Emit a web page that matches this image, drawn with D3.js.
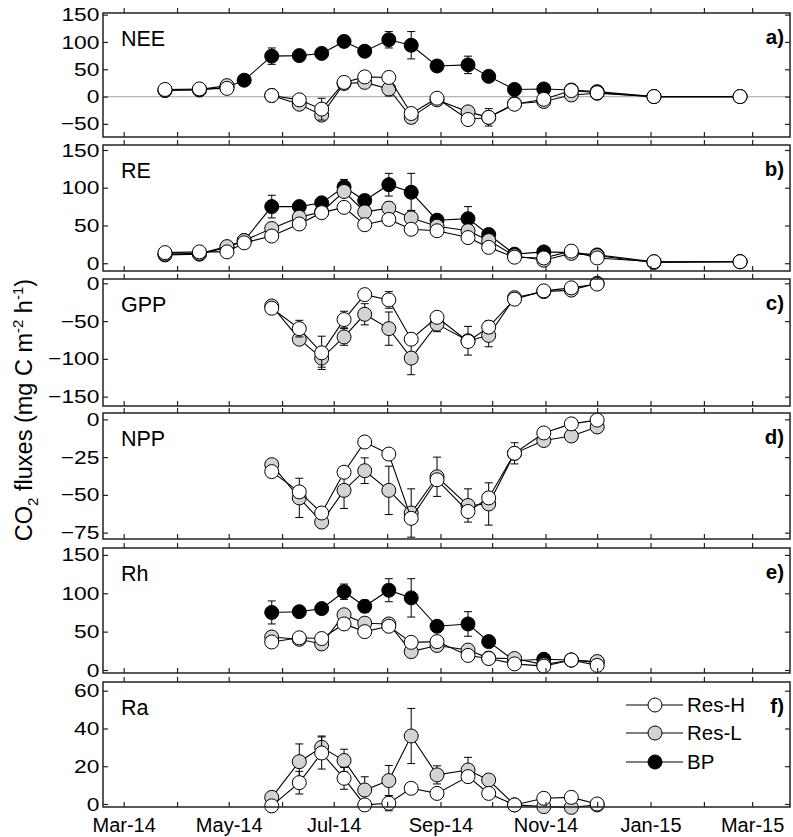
<!DOCTYPE html>
<html><head><meta charset="utf-8">
<script src="https://cdn.jsdelivr.net/npm/d3@7"></script>
<style>body{margin:0;background:#fff} svg{display:block} text{font-family:"Liberation Sans",Arial,sans-serif}</style>
</head><body><svg id="c" width="793" height="837"></svg>
<script>
// ---------- data ----------
const dates = ["2014-03-25","2014-04-14","2014-04-30","2014-05-10","2014-05-26","2014-06-11","2014-06-24","2014-07-07","2014-07-19","2014-08-02","2014-08-15","2014-08-30","2014-09-17","2014-09-29","2014-10-14","2014-10-31","2014-11-16","2014-12-01","2015-01-03","2015-02-22"];
const seriesNames = ["Res-H","Res-L","BP"];
const panelNames = ["NEE","RE","GPP","NPP","Rh","Ra"];
const panelTags = ["a)","b)","c)","d)","e)","f)"];
const yTicksA = [-50,0,50,100,150];
const yTicksB = [0,50,100,150];
const yTicksC = [-150,-100,-50,0];
const yTicksD = [-75,-50,-25,0];
const yTicksE = [0,50,100,150];
const yTicksF = [0,20,40,60];

// a) NEE
const neeBP   = [11,12,17,30,74,75,79,101,83,104,94,56,58,37,13,14,12,9,0,0];
const neeBPErr= [0,0,0,0,15,6,5,10,8,15,25,0,16,0,0,0,0,0,0,0];
const neeL    = [12,13,20,null,2,-14,-34,24,26,14,-38,-6,-28,-38,-13,-9,3,6,0,0];
const neeLErr = [0,0,0,0,0,8,5,5,4,13,11,0,9,8,0,0,0,0,0,0];
const neeH    = [13,14,15,null,2,-6,-23,26,36,35,-31,-3,-42,-38,-14,-5,11,7,0,0];
const neeHErr = [0,0,0,0,6,6,20,5,4,4,5,0,5,16,0,0,0,0,0,0];
// b) RE
const reBP    = [11,12,21,30,75,75,80,101,83,104,94,57,59,38,12,15,14,11,2,2];
const reBPErr = [0,0,0,0,15,6,5,10,8,15,25,0,16,0,0,0,0,0,0,0];
const reL     = [12,13,22,30,46,61,68,95,68,73,60,49,43,30,10,4,13,10,1,2];
const reLErr  = [0,0,0,0,0,4,0,4,5,8,10,0,0,0,0,0,0,0,0,0];
const reH     = [14,15,15,27,36,52,67,74,51,58,45,43,34,21,8,7,16,7,2,2];
const reHErr  = [0,0,0,0,0,0,0,0,0,8,0,0,0,0,0,0,0,0,0,0];
// c) GPP
const gppL    = [null,null,null,null,-30,-74,-99,-71,-41,-60,-99,-54,-76,-69,-19,-11,-9,0,null,null];
const gppLErr = [0,0,0,0,0,0,12,11,14,22,22,10,19,15,0,0,0,0,0,0];
const gppH    = [null,null,null,null,-33,-60,-92,-48,-15,-22,-74,-45,-77,-58,-21,-10,-6,-1,null,null];
const gppHErr = [0,0,0,0,0,11,22,11,0,11,0,0,0,8,0,0,0,0,0,0];
// d) NPP
const nppL    = [null,null,null,null,-30,-52,-68,-47,-34,-47,-62,-38,-57,-56,-22.5,-14,-11,-5,null,null];
const nppLErr = [0,0,0,0,0,13,0,12,8.5,16,16,13,11,14,7,0,0,0,0,0];
const nppH    = [null,null,null,null,-34.6,-48,-62,-35,-15,-23,-65.5,-40,-61,-52,-22.5,-9,-3,-0.5,null,null];
const nppHErr = [0,0,0,0,0,0,0,0,0,0,0,0,0,0,0,0,0,0,0,0];
// e) Rh
const rhBP    = [null,null,null,null,75,76,80,102,83,104,94,57,60,37,12,14,13,10,null,null];
const rhBPErr = [0,0,0,0,15,5,4,10,8,15,25,0,16,0,0,0,0,0,0,0];
const rhL     = [null,null,null,null,43,40,34,72,61,60,24,32,26,15.5,15,7,13,11,null,null];
const rhH     = [null,null,null,null,36.5,42,41,60,50,57,36,37,19,15,8,5,13,6,null,null];
// f) Ra
const raL     = [null,null,null,null,3.5,22.4,30,23,7.4,12.4,36,15.4,18,12.7,-0.5,-1.4,-1.8,-0.5,null,null];
const raLErr  = [0,0,0,0,2,9.4,6,6,7,8,14.6,4.8,6.7,0,0,0,0,0,0,0];
const raH     = [null,null,null,null,-1,11.3,27,13.6,-0.5,0.4,8.3,5.6,14.5,5.6,-0.5,3,3.5,0,null,null];
const raHErr  = [0,0,0,0,0,6,8.5,5.8,0,4,2.5,0,2,0,0,0,0,0,0,0];

// ---------- layout ----------
const fills = {"Res-H":"#ffffff","Res-L":"#d3d3d3","BP":"#000000"};
const X0 = 103, X1 = 790;
const parse = d3.timeParse("%Y-%m-%d");
const x = d3.scaleTime().domain([new Date(2014,1,17), new Date(2015,2,23)]).range([X0, X1]);
const months = d3.timeMonth.range(new Date(2014,2,1), new Date(2015,2,2));
const fmt = d3.timeFormat("%b-%y");

const panels = [
  {top:13,  bottom:137, domain:[-74,153],   ticks:yTicksA, zero:true,
   series:[["BP",neeBP,neeBPErr],["Res-L",neeL,neeLErr],["Res-H",neeH,neeHErr]]},
  {top:145, bottom:271, domain:[-10.3,156.6], ticks:yTicksB,
   series:[["BP",reBP,reBPErr],["Res-L",reL,reLErr],["Res-H",reH,reHErr]]},
  {top:279, bottom:406, domain:[-162.4,5.7], ticks:yTicksC,
   series:[["Res-L",gppL,gppLErr],["Res-H",gppH,gppHErr]]},
  {top:413, bottom:539, domain:[-79.2,4.2], ticks:yTicksD,
   series:[["Res-L",nppL,nppLErr],["Res-H",nppH,nppHErr]]},
  {top:548, bottom:673, domain:[-3.9,159], ticks:yTicksE,
   series:[["BP",rhBP,rhBPErr],["Res-L",rhL,null],["Res-H",rhH,null]]},
  {top:682, bottom:807, domain:[-1.6,64.6], ticks:yTicksF,
   series:[["Res-L",raL,raLErr],["Res-H",raH,raHErr]]}
];

const svg = d3.select("#c");
const R = 7;

panels.forEach((p, i) => {
  const y = d3.scaleLinear().domain(p.domain).range([p.bottom, p.top]);
  const g = svg.append("g");
  if (p.zero) {
    g.append("line").attr("x1", X0).attr("x2", X1).attr("y1", y(0)).attr("y2", y(0))
      .attr("stroke", "#b8b8b8").attr("stroke-width", 1.2);
  }
  p.series.forEach(([name, vals, errs]) => {
    const pts = dates.map((d, k) => ({d: parse(d), v: vals[k], e: errs ? errs[k] : 0}));
    const sg = g.append("g");
    pts.filter(q => q.v != null && q.e > 0).forEach(q => {
      const cx = x(q.d), y1 = y(q.v + q.e), y2 = y(q.v - q.e);
      sg.append("line").attr("x1", cx).attr("x2", cx).attr("y1", y1).attr("y2", y2).attr("stroke", "#000").attr("stroke-width", 1);
      [y1, y2].forEach(yy => sg.append("line").attr("x1", cx - 4).attr("x2", cx + 4).attr("y1", yy).attr("y2", yy).attr("stroke", "#000").attr("stroke-width", 1));
    });
    const line = d3.line().defined(q => q.v != null).x(q => x(q.d)).y(q => y(q.v));
    sg.append("path").attr("d", line(pts)).attr("fill", "none").attr("stroke", "#000").attr("stroke-width", 1.1);
    sg.selectAll("circle").data(pts.filter(q => q.v != null)).join("circle")
      .attr("cx", q => x(q.d)).attr("cy", q => y(q.v)).attr("r", R)
      .attr("fill", fills[name]).attr("stroke", "#000").attr("stroke-width", 1);
  });
  g.append("rect").attr("x", X0).attr("y", p.top).attr("width", X1 - X0).attr("height", p.bottom - p.top)
    .attr("fill", "none").attr("stroke", "#222").attr("stroke-width", 1.5);
  const left = g.append("g").attr("transform", `translate(${X0},0)`)
    .call(d3.axisLeft(y).tickValues(p.ticks).tickSize(-5).tickPadding(3));
  const right = g.append("g").attr("transform", `translate(${X1},0)`)
    .call(d3.axisRight(y).tickValues(p.ticks).tickSize(-5).tickFormat(""));
  const topAx = g.append("g").attr("transform", `translate(0,${p.top})`)
    .call(d3.axisBottom(x).tickValues(months).tickSize(-5).tickFormat(""));
  const botAx = g.append("g").attr("transform", `translate(0,${p.bottom})`)
    .call(d3.axisBottom(x).tickValues(months).tickSize(-5).tickPadding(11)
      .tickFormat(d => (i === 5 && d.getMonth() % 2 === 0) ? fmt(d) : ""));
  [left, right, topAx, botAx].forEach(a => {
    a.select(".domain").remove();
    a.attr("font-family", "Liberation Sans, Arial, sans-serif").attr("font-size", 20);
    a.selectAll(".tick line").attr("stroke", "#222").attr("stroke-width", 1.2);
    a.selectAll("text").attr("fill", "#000");
  });
  left.attr("font-size", 19).selectAll("text").attr("transform", "scale(1.2,1)");
  g.append("text").attr("x", 121).attr("y", p.top + 33).attr("font-size", 21.5).text(panelNames[i]);
  g.append("text").attr("x", 784).attr("y", p.top + 31).attr("font-size", 20.5).attr("font-weight", "bold")
    .attr("text-anchor", "end").text(panelTags[i]);
});

// legend in panel f
const legY = [705, 733, 762];
seriesNames.forEach((n, k) => {
  const lg = svg.append("g");
  lg.append("line").attr("x1", 626).attr("x2", 683).attr("y1", legY[k]).attr("y2", legY[k]).attr("stroke", "#000");
  lg.append("circle").attr("cx", 655).attr("cy", legY[k]).attr("r", R).attr("fill", fills[n]).attr("stroke", "#000");
  lg.append("text").attr("x", 687).attr("y", legY[k] + 7).attr("font-size", 20.5).text(n);
});

// y-axis title
const t = svg.append("text").attr("transform", "translate(32,410) rotate(-90)")
  .attr("text-anchor", "middle").attr("font-size", 23.5);
t.append("tspan").text("CO");
t.append("tspan").attr("font-size", 15).attr("dy", 6).text("2");
t.append("tspan").attr("dy", -6).text(" fluxes (mg C m");
t.append("tspan").attr("font-size", 15).attr("dy", -9).text("-2");
t.append("tspan").attr("dy", 9).text(" h");
t.append("tspan").attr("font-size", 15).attr("dy", -9).text("-1");
t.append("tspan").attr("dy", 9).text(")");
</script></body></html>
